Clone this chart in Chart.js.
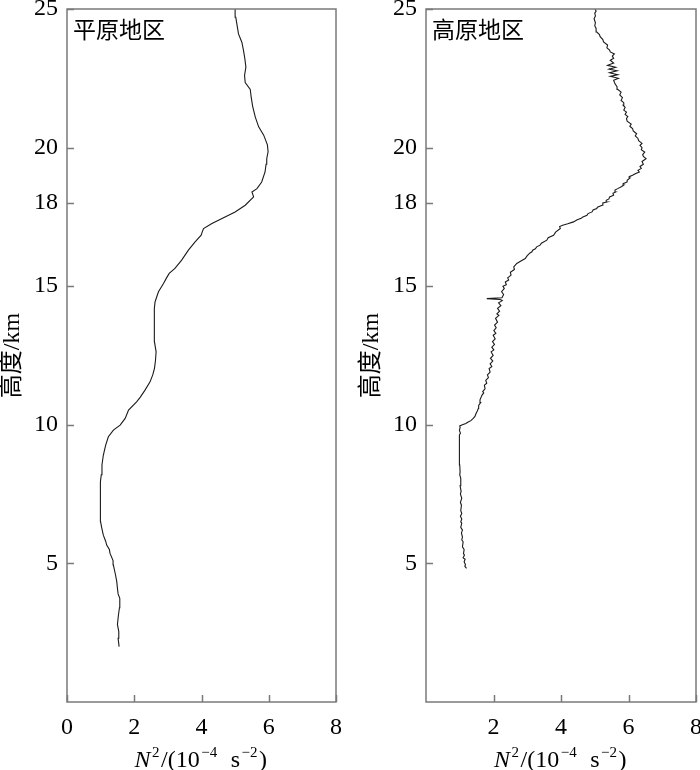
<!DOCTYPE html>
<html>
<head>
<meta charset="utf-8">
<script src="https://cdn.jsdelivr.net/npm/chart.js@4"></script>
<style>
    body { margin: 0; background: #fff; }
    canvas { position: absolute; top: 0; }
</style>
</head>
<body>
<canvas id="chart-plain" width="350" height="770" style="left:0"></canvas>
<canvas id="chart-plateau" width="350" height="770" style="left:350px"></canvas>
<script>
// 高度 (km) 与 N^2 (10^-4 s^-2) —— 从图上读取
const panelNames = ['平原地区', '高原地区'];
const heightTicks = [5, 10, 15, 18, 20, 25];
const plainXTicks = [0, 2, 4, 6, 8];
const plateauXTicks = [2, 4, 6, 8];

const plainHeight = [2.0, 2.3, 2.54, 2.8, 3.14, 3.4, 3.74, 3.9, 4.1, 4.34, 4.6, 4.94, 5.1, 5.36, 5.5, 5.66, 5.8, 6.02, 6.3, 6.5,
    7.0, 7.35, 7.94, 8.2, 8.55, 8.9, 9.27, 9.57, 9.81, 9.99, 10.23, 10.53, 10.83, 11.0, 11.25, 11.55, 11.8, 12.03, 12.3, 12.63,
    13.0, 13.35, 13.7, 13.96, 14.2, 14.44, 14.8, 15.1, 15.3, 15.46, 15.64, 15.94, 16.3, 16.6, 16.84, 16.95, 17.08, 17.26, 17.5, 17.68,
    17.92, 18.22, 18.4, 18.52, 18.76, 19.12, 19.4, 19.6, 19.85, 20.1, 20.45, 20.75, 21.1, 21.5, 21.8, 22.1, 22.35, 22.6, 22.9, 23.2,
    23.5, 23.8, 24.1, 24.4, 24.7, 25.0];
const plainN2 = [1.55, 1.52, 1.54, 1.50, 1.53, 1.56, 1.57, 1.52, 1.50, 1.48, 1.44, 1.38, 1.37, 1.28, 1.26, 1.18, 1.15, 1.08, 1.03, 1.00,
    0.99, 0.99, 1.00, 1.02, 1.04, 1.08, 1.15, 1.23, 1.38, 1.58, 1.73, 1.83, 2.07, 2.18, 2.32, 2.47, 2.55, 2.60, 2.63, 2.65,
    2.60, 2.59, 2.61, 2.59, 2.60, 2.62, 2.72, 2.87, 2.96, 3.04, 3.21, 3.41, 3.61, 3.81, 3.99, 4.02, 4.06, 4.31, 4.70, 5.00,
    5.30, 5.55, 5.50, 5.65, 5.79, 5.89, 5.92, 5.94, 5.98, 5.96, 5.85, 5.70, 5.60, 5.52, 5.48, 5.45, 5.30, 5.28, 5.32, 5.29,
    5.25, 5.20, 5.10, 5.06, 5.02, 5.00];

const plateauHeight = [
    4.82, 4.90, 4.95, 5.06, 5.15, 5.2, 5.3, 5.35, 5.5, 5.6,
    5.78, 5.85, 5.95, 6.1, 6.2, 6.3, 6.45, 6.5, 6.6, 6.7,
    6.8, 6.9, 7.1, 7.2, 7.35, 7.5, 7.6, 7.8, 8.07, 8.2,
    8.3, 8.55, 9.0, 9.3, 9.63, 9.7, 9.8, 9.9, 9.96, 10.0,
    10.05, 10.1, 10.15, 10.23, 10.3, 10.4, 10.5, 10.59, 10.7, 10.8,
    10.9, 11.07, 11.15, 11.2, 11.3, 11.43, 11.5, 11.6, 11.7, 11.8,
    11.9, 12.03, 12.1, 12.2, 12.3, 12.4, 12.5, 12.63, 12.7, 12.8,
    12.9, 13.0, 13.1, 13.23, 13.3, 13.4, 13.5, 13.6, 13.7, 13.84,
    13.95, 14.0, 14.1, 14.2, 14.3, 14.4, 14.48, 14.52, 14.55, 14.58,
    14.7, 14.8, 14.92, 15.0, 15.05, 15.15, 15.22, 15.3, 15.4, 15.5,
    15.6, 15.7, 15.82, 15.9, 16.0, 16.1, 16.2, 16.24, 16.3, 16.35,
    16.42, 16.48, 16.55, 16.66, 16.75, 16.84, 16.95, 17.08, 17.15, 17.2,
    17.25, 17.32, 17.4, 17.45, 17.5, 17.56, 17.62, 17.68, 17.75, 17.8,
    17.85, 17.92, 18.0, 18.04, 18.1, 18.15, 18.22, 18.28, 18.35, 18.4,
    18.47, 18.52, 18.6, 18.65, 18.7, 18.76, 18.82, 18.9, 18.95, 19.0,
    19.06, 19.12, 19.18, 19.25, 19.32, 19.4, 19.5, 19.6, 19.68, 19.75,
    19.84, 19.92, 20.0, 20.08, 20.15, 20.25, 20.33, 20.42, 20.5, 20.6,
    20.69, 20.77, 20.85, 20.95, 21.05, 21.12, 21.2, 21.28, 21.35, 21.45,
    21.53, 21.62, 21.7, 21.8, 21.9, 22.0, 22.1, 22.2, 22.3, 22.43,
    22.5, 22.57, 22.63, 22.7, 22.77, 22.83, 22.9, 22.97, 23.05, 23.15,
    23.22, 23.3, 23.38, 23.45, 23.52, 23.6, 23.7, 23.81, 23.9, 24.0,
    24.08, 24.17, 24.3, 24.4, 24.5, 24.65, 24.75, 24.85, 24.92, 25.0];
const plateauN2 = [
    1.20, 1.15, 1.17, 1.13, 1.16, 1.10, 1.14, 1.11, 1.13, 1.08,
    1.10, 1.06, 1.08, 1.05, 1.08, 1.03, 1.06, 1.03, 1.06, 1.02,
    1.06, 1.03, 1.05, 1.02, 1.06, 1.02, 1.04, 1.01, 1.03, 1.00,
    1.01, 1.00, 0.99, 0.99, 0.99, 1.02, 0.99, 1.01, 1.00, 1.08,
    1.18, 1.25, 1.33, 1.40, 1.45, 1.48, 1.52, 1.55, 1.56, 1.62,
    1.60, 1.66, 1.71, 1.68, 1.75, 1.73, 1.80, 1.77, 1.85, 1.82,
    1.90, 1.87, 1.95, 1.90, 1.98, 1.91, 1.99, 1.93, 2.01, 1.95,
    2.03, 1.97, 2.05, 1.99, 2.07, 2.01, 2.08, 2.03, 2.12, 2.06,
    2.16, 2.10, 2.18, 2.12, 2.22, 2.15, 2.26, 2.20, 1.80, 2.25,
    2.30, 2.24, 2.32, 2.28, 2.38, 2.35, 2.45, 2.42, 2.52, 2.50,
    2.62, 2.60, 2.69, 2.80, 2.94, 3.00, 3.08, 3.14, 3.16, 3.24,
    3.28, 3.38, 3.42, 3.58, 3.62, 3.78, 3.84, 3.98, 3.96, 4.05,
    4.20, 4.37, 4.48, 4.60, 4.65, 4.77, 4.80, 4.92, 4.95, 5.06,
    5.08, 5.22, 5.24, 5.36, 5.34, 5.42, 5.44, 5.56, 5.54, 5.62,
    5.60, 5.68, 5.80, 5.86, 5.84, 5.96, 5.96, 6.04, 6.02, 6.12,
    6.20, 6.32, 6.28, 6.38, 6.34, 6.44, 6.40, 6.52, 6.44, 6.42,
    6.48, 6.38, 6.40, 6.34, 6.40, 6.30, 6.28, 6.20, 6.24, 6.14,
    6.12, 6.04, 6.08, 5.96, 5.94, 5.98, 5.90, 5.94, 5.86, 5.90,
    5.84, 5.86, 5.78, 5.82, 5.74, 5.78, 5.68, 5.66, 5.60, 5.56,
    5.70, 5.46, 5.68, 5.44, 5.66, 5.42, 5.62, 5.38, 5.56, 5.46,
    5.56, 5.52, 5.58, 5.46, 5.44, 5.36, 5.38, 5.26, 5.24, 5.16,
    5.14, 5.06, 5.04, 5.00, 5.02, 4.98, 5.02, 5.00, 5.04, 5.01];

const serif = '"Liberation Serif", "Noto Sans CJK SC", serif';

// 外框、向内的刻度线、面板名称、x 轴标题
const framePlugin = {
    id: 'frame',
    afterDraw(chart, args, opts) {
        const { ctx, chartArea } = chart;
        const { left, right, top, bottom } = chartArea;
        const xs = chart.scales.x, ys = chart.scales.y;
        ctx.save();
        ctx.strokeStyle = '#7a7a7a';
        ctx.lineWidth = 1.5;
        ctx.strokeRect(left, top, right - left, bottom - top);
        ctx.beginPath();
        heightTicks.forEach(v => {
            const py = Math.round(ys.getPixelForValue(v)) + 0.5;
            ctx.moveTo(left, py);
            ctx.lineTo(left + 7, py);
        });
        opts.xTicks.forEach(v => {
            const px = Math.round(xs.getPixelForValue(v)) + 0.5;
            ctx.moveTo(px, bottom);
            ctx.lineTo(px, bottom - 7);
        });
        ctx.stroke();

        ctx.fillStyle = '#000';
        ctx.font = '23px "Noto Sans CJK SC"';
        ctx.textBaseline = 'middle';
        ctx.textAlign = 'left';
        ctx.fillText(opts.name, left + 6, top + 20);

        // N²/(10⁻⁴ s⁻²)
        const parts = [
            { t: 'N', f: 'italic 24px ' + serif, dy: 0 },
            { t: '2', f: '15px ' + serif, dy: -10 },
            { t: '/(10', f: '24px ' + serif, dy: 0 },
            { t: '\u22124', f: '15px ' + serif, dy: -10 },
            { t: '  s', f: '24px ' + serif, dy: 0 },
            { t: '\u22122', f: '15px ' + serif, dy: -10 },
            { t: ')', f: '24px ' + serif, dy: 0 }
        ];
        let total = 0;
        parts.forEach(p => { ctx.font = p.f; p.w = ctx.measureText(p.t).width + 1.5; total += p.w; });
        let x = (left + right) / 2 - total / 2;
        ctx.textBaseline = 'alphabetic';
        parts.forEach(p => {
            ctx.font = p.f;
            ctx.fillText(p.t, x, 767 + p.dy);
            x += p.w;
        });
        ctx.restore();
    }
};

function makePanel(canvasId, name, heights, values, xTicks, yAxisWidth, titlePad, padRight) {
    const ctx = document.getElementById(canvasId);
    return new Chart(ctx, {
        type: 'scatter',
        data: {
            datasets: [{
                data: heights.map((h, i) => ({ x: values[i], y: h })),
                showLine: true,
                borderColor: '#1a1a1a',
                borderWidth: 1.1,
                pointRadius: 0,
                tension: 0
            }]
        },
        options: {
            responsive: false,
            animation: false,
            layout: { padding: { top: 9, right: padRight, left: 0, bottom: 0 } },
            scales: {
                x: {
                    min: 0,
                    max: 8,
                    afterBuildTicks: s => { s.ticks = xTicks.map(v => ({ value: v })); },
                    afterFit: s => { s.height = 68; s.paddingLeft = 0; s.paddingRight = 0; },
                    grid: { display: false, drawTicks: false },
                    border: { display: false },
                    ticks: { padding: 11, color: '#000', maxRotation: 0, font: { family: serif, size: 24 } }
                },
                y: {
                    min: 0,
                    max: 25,
                    afterBuildTicks: s => { s.ticks = heightTicks.map(v => ({ value: v })); },
                    afterFit: s => { s.width = yAxisWidth; s.paddingTop = 0; s.paddingBottom = 0; },
                    grid: { display: false, drawTicks: false },
                    border: { display: false },
                    ticks: { padding: 9, color: '#000', font: { family: serif, size: 24 } },
                    title: {
                        display: true,
                        text: '高度/km',
                        color: '#000',
                        font: { family: serif, size: 24, lineHeight: 1 },
                        padding: { top: titlePad, bottom: 0 }
                    }
                }
            },
            plugins: {
                legend: { display: false },
                tooltip: { enabled: false },
                frame: { name: name, xTicks: xTicks }
            }
        },
        plugins: [framePlugin]
    });
}

makePanel('chart-plain', panelNames[0], plainHeight, plainN2, plainXTicks, 67, 1, 14);
makePanel('chart-plateau', panelNames[1], plateauHeight, plateauN2, plateauXTicks, 76, 10, 4);
</script>
</body>
</html>
